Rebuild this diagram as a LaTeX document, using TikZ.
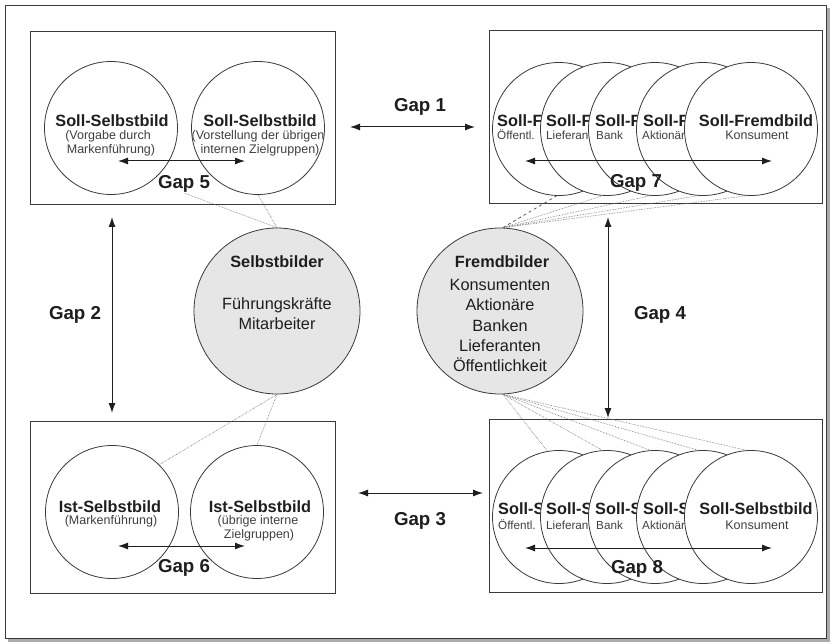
\documentclass[tikz,border=0pt]{standalone}
\usepackage{fontspec}
\setmainfont{Liberation Sans}
\usetikzlibrary{arrows.meta}
\definecolor{ink}{HTML}{1E1E1E}
\definecolor{stroke}{HTML}{3A3A3A}
\definecolor{shade}{HTML}{E6E6E6}
\tikzset{
  boxframe/.style={draw=stroke, line width=0.8pt},
  smallcirc/.style={circle, draw=stroke, fill=white, line width=0.8pt, inner sep=0pt, minimum size=133pt},
  bigcirc/.style={circle, draw=stroke, fill=shade, line width=0.8pt, inner sep=0pt, minimum size=166pt},
  ttl/.style={font=\fontsize{16.3}{19}\selectfont\bfseries, text=ink, inner sep=0pt},
  plain/.style={font=\fontsize{16.3}{19}\selectfont, text=ink, inner sep=0pt},
  sub/.style={font=\fontsize{12.5}{14}\selectfont, text=ink!85, inner sep=0pt},
  subs/.style={font=\fontsize{11.7}{14}\selectfont, text=ink!85, inner sep=0pt},
  gaplbl/.style={font=\fontsize{18.7}{22}\selectfont\bfseries, text=ink, inner sep=0pt},
  gaparr/.style={{Latex[length=10pt,width=7pt]}-{Latex[length=10pt,width=7pt]}, draw=ink, line width=1pt},
  link/.style={draw=gray!85!black, line width=0.6pt, densely dotted},
}
\begin{document}
\begin{tikzpicture}[x=1pt,y=-1pt]
\useasboundingbox (0,0) rectangle (832,644);
% outer frame with shadow
\fill[gray!65] (8,8) rectangle (830,642);
\draw[fill=white, draw=stroke, line width=0.8pt] (5,5) rectangle (826,638);
% boxes
\draw[boxframe] (30,31) rectangle (335,204);
\draw[boxframe] (489,30) rectangle (822,203);
\draw[boxframe] (30,421) rectangle (335,593);
\draw[boxframe] (489,419) rectangle (822,592);

% ---- top left: Soll-Selbstbild ----
\node[smallcirc] (tl1) at (111,128) {};
\node[ttl, anchor=base] (tl1t) at (112,127) {Soll-Selbstbild};
\node[sub, anchor=base] (tl1s1) at (108,140) {(Vorgabe durch};
\node[sub, anchor=base] (tl1s2) at (111,154) {Markenführung)};
\node[smallcirc] (tl2) at (258,128) {};
\node[ttl, anchor=base] (tl2t) at (260,127) {Soll-Selbstbild};
\node[sub, anchor=base] (tl2s1) at (258,140) {(Vorstellung der übrigen};
\node[sub, anchor=base] (tl2s2) at (260,154) {internen Zielgruppen)};

% ---- bottom left: Ist-Selbstbild ----
\node[smallcirc] (bl1) at (112,512) {};
\node[ttl, anchor=base] (bl1t) at (110,512) {Ist-Selbstbild};
\node[sub, anchor=base] (bl1s1) at (111,524) {(Markenführung)};
\node[smallcirc] (bl2) at (257,512) {};
\node[ttl, anchor=base] (bl2t) at (260,512) {Ist-Selbstbild};
\node[sub, anchor=base] (bl2s1) at (258,524) {(übrige interne};
\node[sub, anchor=base] (bl2s2) at (259,538) {Zielgruppen)};

% ---- top right: Soll-Fremdbild (overlapping, earlier ones cut off) ----
\node[smallcirc] (tr1) at (559,129) {};
\node[ttl, anchor=base west] (tr1t) at (497,127) {Soll-F};
\node[subs, anchor=base west] (tr1s) at (497,140) {Öffentl.};
\node[smallcirc] (tr2) at (607,129) {};
\node[ttl, anchor=base west] (tr2t) at (546,127) {Soll-F};
\node[subs, anchor=base west] (tr2s) at (546,140) {Lieferant};
\node[smallcirc] (tr3) at (655,129) {};
\node[ttl, anchor=base west] (tr3t) at (595,127) {Soll-F};
\node[subs, anchor=base west] (tr3s) at (596,140) {Bank};
\node[smallcirc] (tr4) at (703,129) {};
\node[ttl, anchor=base west] (tr4t) at (643,127) {Soll-F};
\node[subs, anchor=base west] (tr4s) at (642,140) {Aktionär};
\node[smallcirc] (tr5) at (751,129) {};
\node[ttl, anchor=base] (tr5t) at (756,127) {Soll-Fremdbild};
\node[sub, anchor=base] (tr5s) at (757,140) {Konsument};

% ---- bottom right: Soll-Selbstbild ----
\node[smallcirc] (br1) at (559,517) {};
\node[ttl, anchor=base west] (br1t) at (498,514) {Soll-S};
\node[subs, anchor=base west] (br1s) at (498,529) {Öffentl.};
\node[smallcirc] (br2) at (607,517) {};
\node[ttl, anchor=base west] (br2t) at (546,514) {Soll-S};
\node[subs, anchor=base west] (br2s) at (546,529) {Lieferant};
\node[smallcirc] (br3) at (655,517) {};
\node[ttl, anchor=base west] (br3t) at (595,514) {Soll-S};
\node[subs, anchor=base west] (br3s) at (596,529) {Bank};
\node[smallcirc] (br4) at (703,517) {};
\node[ttl, anchor=base west] (br4t) at (643,514) {Soll-S};
\node[subs, anchor=base west] (br4s) at (642,529) {Aktionär};
\node[smallcirc] (br5) at (751,517) {};
\node[ttl, anchor=base] (br5t) at (756,514) {Soll-Selbstbild};
\node[sub, anchor=base] (br5s) at (757,529) {Konsument};

% ---- central circles ----
\node[bigcirc] (sb) at (277,311) {};
\node[ttl, anchor=base] (sbt) at (277,268) {Selbstbilder};
\node[plain, anchor=base] (sb1) at (277,309) {Führungskräfte};
\node[plain, anchor=base] (sb2) at (277,329) {Mitarbeiter};

\node[bigcirc] (fb) at (500,311) {};
\node[ttl, anchor=base] (fbt) at (502,268) {Fremdbilder};
\node[plain, anchor=base] (fb1) at (500,290) {Konsumenten};
\node[plain, anchor=base] (fb2) at (500,310) {Aktionäre};
\node[plain, anchor=base] (fb3) at (500,331) {Banken};
\node[plain, anchor=base] (fb4) at (500,351) {Lieferanten};
\node[plain, anchor=base] (fb5) at (500,371) {Öffentlichkeit};

% ---- gap labels ----
\node[gaplbl, anchor=base] (g1) at (420,112) {Gap 1};
\node[gaplbl, anchor=base] (g2) at (75,319) {Gap 2};
\node[gaplbl, anchor=base] (g3) at (420,525) {Gap 3};
\node[gaplbl, anchor=base] (g4) at (660,319) {Gap 4};
\node[gaplbl, anchor=base] (g5) at (184,189) {Gap 5};
\node[gaplbl, anchor=base] (g6) at (184,572) {Gap 6};
\node[gaplbl, anchor=base] (g7) at (636,188) {Gap 7};
\node[gaplbl, anchor=base] (g8) at (637,573) {Gap 8};

% ---- links ----
\draw[link] (sb.north) -- (g5.south);
\draw[link] (sb.north) -- (tl2.south);
\draw[link] (sb.south) -- (bl1.45);
\draw[link] (sb.south) -- (bl2.north);
\draw[draw=ink!80, line width=0.7pt, dashed] (fb.88) -- (tr1.268);
\foreach \i in {2,...,5} { \draw[link] (fb.88) -- (tr\i.266); }
\draw[link] (fb.272) -- (br1.100);
\foreach \i in {2,...,5} { \draw[link] (fb.272) -- (br\i.94); }

% ---- gap arrows ----
\coordinate (a1l) at (350,127); \coordinate (a1r) at (475,127);
\coordinate (a2t) at (112,217); \coordinate (a2b) at (112,413);
\coordinate (a3l) at (358,493); \coordinate (a3r) at (483,493);
\coordinate (a4t) at (608,217); \coordinate (a4b) at (608,418);
\coordinate (a5l) at (118,161); \coordinate (a5r) at (245,161);
\coordinate (a6l) at (118,546); \coordinate (a6r) at (245,546);
\coordinate (a7l) at (525,161); \coordinate (a7r) at (772,161);
\coordinate (a8l) at (525,548); \coordinate (a8r) at (772,548);
\draw[gaparr] (a1l) -- (a1r);
\draw[gaparr] (a2t) -- (a2b);
\draw[gaparr] (a3l) -- (a3r);
\draw[gaparr] (a4t) -- (a4b);
\draw[gaparr] (a5l) -- (a5r);
\draw[gaparr] (a6l) -- (a6r);
\draw[gaparr] (a7l) -- (a7r);
\draw[gaparr] (a8l) -- (a8r);
\end{tikzpicture}
\end{document}
